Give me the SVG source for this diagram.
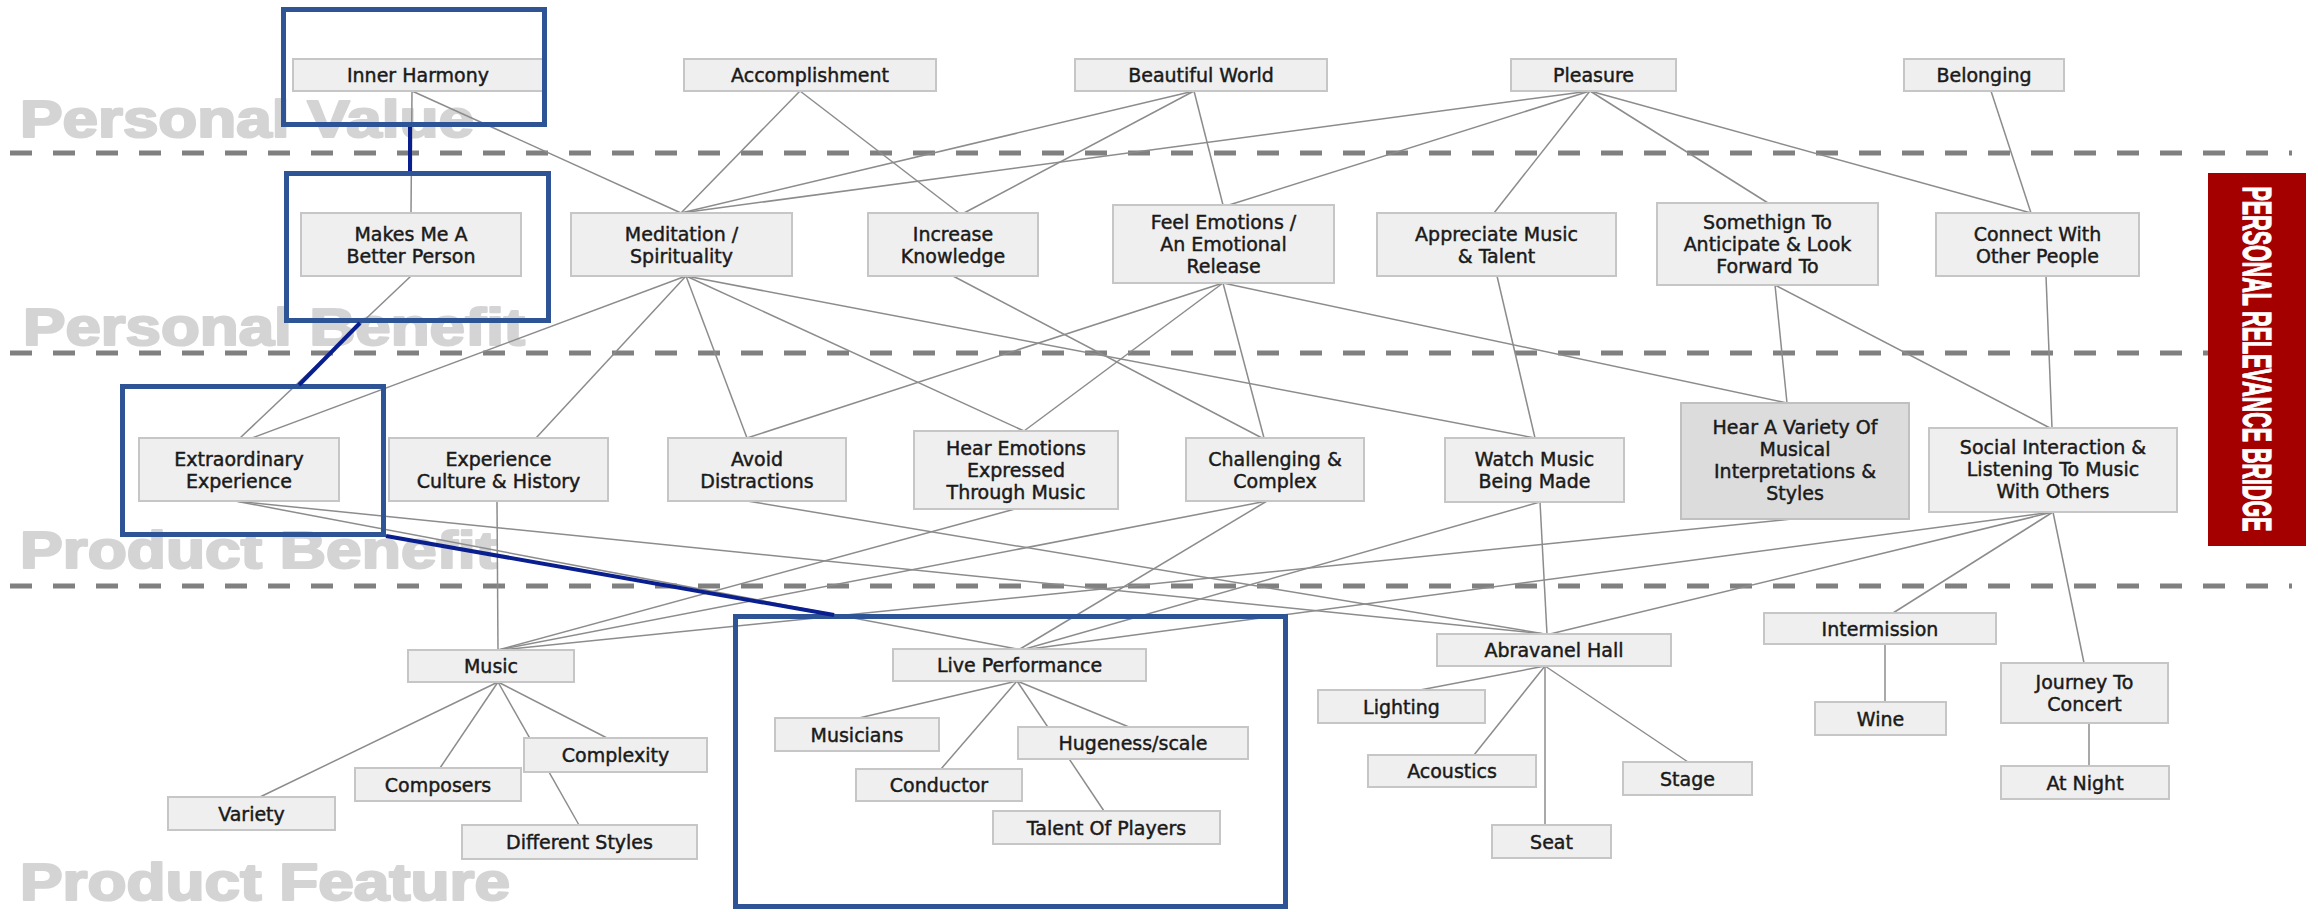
<svg xmlns="http://www.w3.org/2000/svg" width="2318" height="912" viewBox="0 0 2318 912">
<style>
.wm{font-family:"Liberation Sans",Arial,sans-serif;font-weight:bold;font-size:51px;fill:#d4d4d4;stroke:#d4d4d4;stroke-width:2.2;stroke-linejoin:round}
.dash{stroke:#808080;stroke-width:5;stroke-dasharray:22 21;fill:none}
.conn line{stroke:#8c8c8c;stroke-width:1.5}
.box{fill:#efefef;stroke:#c6c6c6;stroke-width:2}
.box2{fill:#dcdcdc;stroke:#c0c0c0;stroke-width:2}
.lbl{font-family:"DejaVu Sans",Verdana,sans-serif;font-size:19px;fill:#1a1a1a;stroke:#1a1a1a;stroke-width:0.45;text-anchor:middle;dominant-baseline:central}
.hl{fill:none;stroke:#2f5496;stroke-width:5}
.hlc{stroke:#0a1f8f;stroke-width:4;fill:none}
</style>
<rect width="2318" height="912" fill="#ffffff"/>
<g id="watermarks">
<text class="wm" x="20" y="137" textLength="454" lengthAdjust="spacingAndGlyphs">Personal Value</text>
<text class="wm" x="23" y="345" textLength="502" lengthAdjust="spacingAndGlyphs">Personal Benefit</text>
<text class="wm" x="20" y="568" textLength="477" lengthAdjust="spacingAndGlyphs">Product Benefit</text>
<text class="wm" x="20" y="900" textLength="490" lengthAdjust="spacingAndGlyphs">Product Feature</text>
</g>
<g id="dividers">
<line class="dash" x1="10" y1="153" x2="2292" y2="153"/>
<line class="dash" x1="10" y1="353" x2="2292" y2="353"/>
<line class="dash" x1="10" y1="586" x2="2292" y2="586"/>
</g>
<g id="connectors" class="conn">
<line x1="412" y1="91" x2="411" y2="213"/>
<line x1="412" y1="91" x2="681" y2="213"/>
<line x1="800" y1="91" x2="681" y2="213"/>
<line x1="800" y1="91" x2="959" y2="213"/>
<line x1="1194" y1="91" x2="681" y2="213"/>
<line x1="1194" y1="91" x2="964" y2="213"/>
<line x1="1194" y1="91" x2="1223" y2="205"/>
<line x1="1590" y1="91" x2="681" y2="213"/>
<line x1="1590" y1="91" x2="1229" y2="205"/>
<line x1="1590" y1="91" x2="1494" y2="213"/>
<line x1="1590" y1="91" x2="1768" y2="203"/>
<line x1="1590" y1="91" x2="2031" y2="213"/>
<line x1="1991" y1="91" x2="2031" y2="213"/>
<line x1="411" y1="276" x2="240" y2="438"/>
<line x1="686" y1="276" x2="252" y2="438"/>
<line x1="686" y1="276" x2="536" y2="438"/>
<line x1="686" y1="276" x2="747" y2="438"/>
<line x1="686" y1="276" x2="1024" y2="431"/>
<line x1="686" y1="276" x2="1535" y2="438"/>
<line x1="953" y1="276" x2="1262" y2="438"/>
<line x1="1223" y1="283" x2="747" y2="438"/>
<line x1="1223" y1="283" x2="1024" y2="431"/>
<line x1="1223" y1="283" x2="1264" y2="438"/>
<line x1="1223" y1="283" x2="1787" y2="403"/>
<line x1="1497" y1="276" x2="1535" y2="438"/>
<line x1="1775" y1="285" x2="1787" y2="403"/>
<line x1="1775" y1="285" x2="2050" y2="428"/>
<line x1="2046" y1="276" x2="2052" y2="428"/>
<line x1="235" y1="501" x2="1017" y2="649"/>
<line x1="235" y1="501" x2="1545" y2="634"/>
<line x1="497" y1="501" x2="498" y2="650"/>
<line x1="747" y1="501" x2="1545" y2="634"/>
<line x1="1015" y1="509" x2="498" y2="650"/>
<line x1="1267" y1="501" x2="498" y2="650"/>
<line x1="1267" y1="501" x2="1020" y2="649"/>
<line x1="1540" y1="502" x2="1547" y2="634"/>
<line x1="1540" y1="502" x2="1025" y2="649"/>
<line x1="1792" y1="519" x2="500" y2="650"/>
<line x1="2053" y1="512" x2="1030" y2="649"/>
<line x1="2053" y1="512" x2="1550" y2="634"/>
<line x1="2053" y1="512" x2="1893" y2="613"/>
<line x1="2053" y1="512" x2="2084" y2="663"/>
<line x1="498" y1="682" x2="260" y2="797"/>
<line x1="498" y1="682" x2="440" y2="768"/>
<line x1="498" y1="682" x2="579" y2="825"/>
<line x1="498" y1="682" x2="607" y2="738"/>
<line x1="1017" y1="681" x2="859" y2="718"/>
<line x1="1017" y1="681" x2="941" y2="769"/>
<line x1="1017" y1="681" x2="1129" y2="727"/>
<line x1="1017" y1="681" x2="1104" y2="811"/>
<line x1="1545" y1="666" x2="1420" y2="690"/>
<line x1="1545" y1="666" x2="1474" y2="755"/>
<line x1="1545" y1="666" x2="1545" y2="825"/>
<line x1="1545" y1="666" x2="1688" y2="762"/>
<line x1="1885" y1="644" x2="1885" y2="702"/>
<line x1="2089" y1="723" x2="2089" y2="766"/>
</g>
<g id="n_inner"><rect class="box" x="293" y="59" width="250" height="32"/><text class="lbl" x="418" y="75">Inner Harmony</text></g>
<g id="n_accomp"><rect class="box" x="684" y="59" width="252" height="32"/><text class="lbl" x="810" y="75">Accomplishment</text></g>
<g id="n_beautiful"><rect class="box" x="1075" y="59" width="252" height="32"/><text class="lbl" x="1201" y="75">Beautiful World</text></g>
<g id="n_pleasure"><rect class="box" x="1511" y="59" width="165" height="32"/><text class="lbl" x="1593.5" y="75">Pleasure</text></g>
<g id="n_belonging"><rect class="box" x="1904" y="59" width="160" height="32"/><text class="lbl" x="1984" y="75">Belonging</text></g>
<g id="n_better"><rect class="box" x="301" y="213" width="220" height="63"/><text class="lbl" x="411" y="233.5">Makes Me A</text><text class="lbl" x="411" y="255.5">Better Person</text></g>
<g id="n_meditation"><rect class="box" x="571" y="213" width="221" height="63"/><text class="lbl" x="681.5" y="233.5">Meditation /</text><text class="lbl" x="681.5" y="255.5">Spirituality</text></g>
<g id="n_knowledge"><rect class="box" x="868" y="213" width="170" height="63"/><text class="lbl" x="953" y="233.5">Increase</text><text class="lbl" x="953" y="255.5">Knowledge</text></g>
<g id="n_emotions"><rect class="box" x="1113" y="205" width="221" height="78"/><text class="lbl" x="1223.5" y="222">Feel Emotions /</text><text class="lbl" x="1223.5" y="244">An Emotional</text><text class="lbl" x="1223.5" y="266">Release</text></g>
<g id="n_appreciate"><rect class="box" x="1377" y="213" width="239" height="63"/><text class="lbl" x="1496.5" y="233.5">Appreciate Music</text><text class="lbl" x="1496.5" y="255.5">&amp; Talent</text></g>
<g id="n_anticipate"><rect class="box" x="1657" y="203" width="221" height="82"/><text class="lbl" x="1767.5" y="222">Somethign To</text><text class="lbl" x="1767.5" y="244">Anticipate &amp; Look</text><text class="lbl" x="1767.5" y="266">Forward To</text></g>
<g id="n_connect"><rect class="box" x="1936" y="213" width="203" height="63"/><text class="lbl" x="2037.5" y="233.5">Connect With</text><text class="lbl" x="2037.5" y="255.5">Other People</text></g>
<g id="n_extraordinary"><rect class="box" x="139" y="438" width="200" height="63"/><text class="lbl" x="239" y="458.5">Extraordinary</text><text class="lbl" x="239" y="480.5">Experience</text></g>
<g id="n_culture"><rect class="box" x="389" y="438" width="219" height="63"/><text class="lbl" x="498.5" y="458.5">Experience</text><text class="lbl" x="498.5" y="480.5">Culture &amp; History</text></g>
<g id="n_avoid"><rect class="box" x="668" y="438" width="178" height="63"/><text class="lbl" x="757" y="458.5">Avoid</text><text class="lbl" x="757" y="480.5">Distractions</text></g>
<g id="n_hearemo"><rect class="box" x="914" y="431" width="204" height="78"/><text class="lbl" x="1016" y="448">Hear Emotions</text><text class="lbl" x="1016" y="470">Expressed</text><text class="lbl" x="1016" y="492">Through Music</text></g>
<g id="n_challenging"><rect class="box" x="1186" y="438" width="178" height="63"/><text class="lbl" x="1275" y="458.5">Challenging &amp;</text><text class="lbl" x="1275" y="480.5">Complex</text></g>
<g id="n_watch"><rect class="box" x="1445" y="438" width="179" height="64"/><text class="lbl" x="1534.5" y="459">Watch Music</text><text class="lbl" x="1534.5" y="481">Being Made</text></g>
<g id="n_interpretations"><rect class="box2" x="1681" y="403" width="228" height="116"/><text class="lbl" x="1795" y="427">Hear A Variety Of</text><text class="lbl" x="1795" y="449">Musical</text><text class="lbl" x="1795" y="471">Interpretations &amp;</text><text class="lbl" x="1795" y="493">Styles</text></g>
<g id="n_social"><rect class="box" x="1929" y="428" width="248" height="84"/><text class="lbl" x="2053" y="447">Social Interaction &amp;</text><text class="lbl" x="2053" y="469">Listening To Music</text><text class="lbl" x="2053" y="491">With Others</text></g>
<g id="n_music"><rect class="box" x="408" y="650" width="166" height="32"/><text class="lbl" x="491" y="666">Music</text></g>
<g id="n_live"><rect class="box" x="893" y="649" width="253" height="32"/><text class="lbl" x="1019.5" y="665">Live Performance</text></g>
<g id="n_abravanel"><rect class="box" x="1437" y="634" width="234" height="32"/><text class="lbl" x="1554" y="650">Abravanel Hall</text></g>
<g id="n_intermission"><rect class="box" x="1764" y="613" width="232" height="31"/><text class="lbl" x="1880" y="628.5">Intermission</text></g>
<g id="n_lighting"><rect class="box" x="1318" y="690" width="167" height="33"/><text class="lbl" x="1401.5" y="706.5">Lighting</text></g>
<g id="n_musicians"><rect class="box" x="775" y="718" width="164" height="33"/><text class="lbl" x="857" y="734.5">Musicians</text></g>
<g id="n_hugeness"><rect class="box" x="1018" y="727" width="230" height="32"/><text class="lbl" x="1133" y="743">Hugeness/scale</text></g>
<g id="n_complexity"><rect class="box" x="524" y="738" width="183" height="34"/><text class="lbl" x="615.5" y="755">Complexity</text></g>
<g id="n_acoustics"><rect class="box" x="1368" y="755" width="168" height="32"/><text class="lbl" x="1452" y="771">Acoustics</text></g>
<g id="n_stage"><rect class="box" x="1623" y="762" width="129" height="33"/><text class="lbl" x="1687.5" y="778.5">Stage</text></g>
<g id="n_journey"><rect class="box" x="2001" y="663" width="167" height="60"/><text class="lbl" x="2084.5" y="682">Journey To</text><text class="lbl" x="2084.5" y="704">Concert</text></g>
<g id="n_wine"><rect class="box" x="1815" y="702" width="131" height="33"/><text class="lbl" x="1880.5" y="718.5">Wine</text></g>
<g id="n_atnight"><rect class="box" x="2001" y="766" width="168" height="33"/><text class="lbl" x="2085" y="782.5">At Night</text></g>
<g id="n_composers"><rect class="box" x="355" y="768" width="166" height="33"/><text class="lbl" x="438" y="784.5">Composers</text></g>
<g id="n_conductor"><rect class="box" x="856" y="769" width="166" height="32"/><text class="lbl" x="939" y="785">Conductor</text></g>
<g id="n_variety"><rect class="box" x="168" y="797" width="167" height="33"/><text class="lbl" x="251.5" y="813.5">Variety</text></g>
<g id="n_talent"><rect class="box" x="993" y="811" width="227" height="33"/><text class="lbl" x="1106.5" y="827.5">Talent Of Players</text></g>
<g id="n_styles"><rect class="box" x="462" y="825" width="235" height="34"/><text class="lbl" x="579.5" y="842">Different Styles</text></g>
<g id="n_seat"><rect class="box" x="1492" y="825" width="119" height="33"/><text class="lbl" x="1551.5" y="841.5">Seat</text></g>
<g id="bridge">
<rect x="2208" y="173" width="98" height="373" fill="#a50000"/>
<text x="2257" y="359" transform="rotate(90 2257 359)" font-family="Liberation Sans, Arial, sans-serif" font-weight="bold" font-size="40" fill="#ffffff" stroke="#ffffff" stroke-width="1.2" text-anchor="middle" dominant-baseline="central" textLength="345" lengthAdjust="spacingAndGlyphs">PERSONAL RELEVANCE BRIDGE</text>
</g>
<g id="highlights">
<rect class="hl" x="283.5" y="9.5" width="261" height="115"/>
<rect class="hl" x="286.5" y="173.5" width="262" height="147"/>
<rect class="hl" x="122.5" y="386.5" width="261" height="148"/>
<rect class="hl" x="735.5" y="616.5" width="550" height="290"/>
<line class="hlc" x1="410" y1="127" x2="410" y2="171"/>
<line class="hlc" x1="360" y1="323" x2="299" y2="385"/>
<line class="hlc" x1="386" y1="536" x2="834" y2="615"/>
</g>
</svg>
